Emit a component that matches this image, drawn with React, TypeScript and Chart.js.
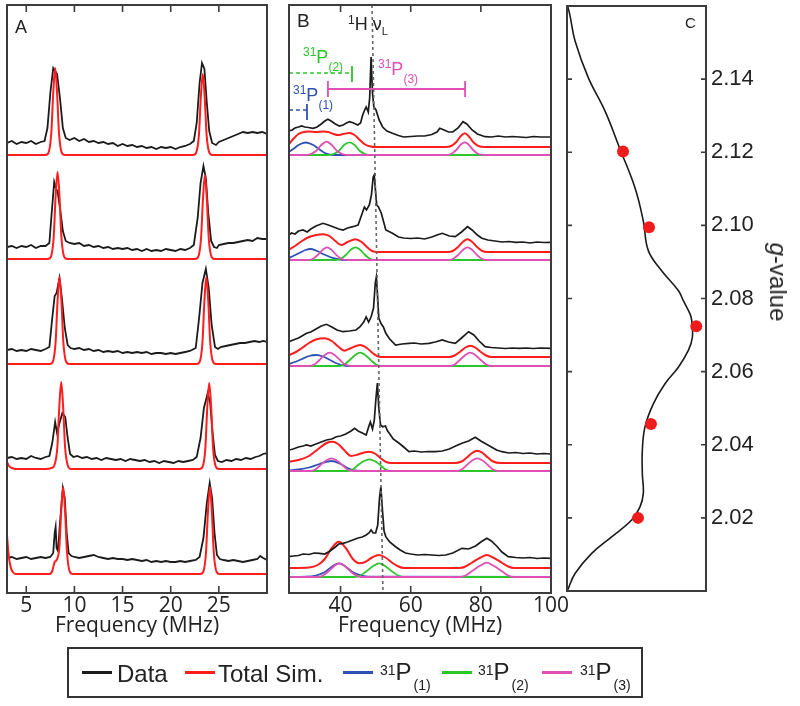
import React, { useEffect, useRef } from 'react';
import { Chart, registerables } from 'chart.js';
Chart.register(...registerables);

type Pt = [number, number];

// ---------------- Panel A (x: MHz, y: stacked intensity) ----------------
const aTicks = [5, 10, 15, 20, 25];
const aData1: Pt[] = [[3,450],[3.5,452],[4,449],[4.5,451],[5,450],[5.5,452],[6,449],[6.5,451],[6.9,452],[7.2,465],[7.5,500],[7.8,525],[8.0,522],[8.2,519],[8.5,495],[8.8,465],[9.1,455],[9.5,453],[10,455],[10.5,452],[11,454],[11.5,451],[12,452],[12.5,450],[13,451],[13.5,449],[14,450],[14.5,447],[15,449],[15.5,447],[16,448],[16.5,446],[17,447],[17.5,445],[18,446],[18.5,444],[19,446],[19.5,445],[20,446],[20.5,444],[21,446],[21.5,447],[22,449],[22.4,452],[22.7,470],[23.0,510],[23.25,530],[23.5,524],[23.75,490],[24.0,462],[24.3,450],[24.7,448],[25,451],[25.5,453],[26,455],[26.5,457],[27,459],[27.5,461],[28,460],[28.5,461],[29,460],[29.5,461],[30,459]];
const aSim1: Pt[] = [[3,438],[7.0,438],[7.3,440],[7.6,460],[7.8,500],[8.0,525],[8.2,500],[8.4,460],[8.7,440],[9.0,438],[22.33,438],[22.63,440],[22.93,458],[23.13,496],[23.33,519],[23.53,496],[23.73,458],[24.03,440],[24.33,438],[30,438]];
const aData2: Pt[] = [[3,346],[3.5,347],[4,345],[4.5,347],[5,346],[5.5,348],[6,345],[6.5,347],[7,347],[7.4,350],[7.6,375],[7.9,411],[8.1,404],[8.25,402],[8.5,385],[8.8,362],[9.1,352],[9.5,350],[10,349],[10.5,350],[11,347],[11.5,348],[12,346],[12.5,347],[13,345],[13.5,346],[14,344],[14.5,345],[15,344],[15.5,345],[16,343],[16.5,344],[17,342],[17.5,344],[18,342],[18.5,343],[19,342],[19.5,344],[20,343],[20.5,342],[21,344],[21.5,343],[22,345],[22.4,348],[22.8,375],[23.1,410],[23.4,427],[23.65,415],[23.9,380],[24.2,352],[24.5,346],[24.8,345],[25,348],[25.5,349],[26,350],[26.5,350],[27,351],[27.5,352],[28,353],[28.5,352],[29,355],[29.5,354],[30,354]];
const aSim2: Pt[] = [[3,334],[7.25,334],[7.55,336],[7.85,356],[8.05,397],[8.25,421],[8.45,397],[8.65,356],[8.95,336],[9.25,334],[22.55,334],[22.85,336],[23.15,355],[23.35,394],[23.55,418],[23.75,394],[23.95,355],[24.25,336],[24.55,334],[30,334]];
const aData3: Pt[] = [[3,243],[3.5,244],[4,242],[4.5,243],[5,242],[5.5,244],[6,243],[6.5,242],[7,244],[7.4,246],[7.7,275],[7.95,297],[8.15,300],[8.45,315],[8.7,295],[9.0,265],[9.3,248],[9.6,245],[10,244],[10.5,245],[11,243],[11.5,244],[12,242],[12.5,243],[13,241],[13.5,242],[14,241],[14.5,242],[15,240],[15.5,241],[16,240],[16.5,241],[17,240],[17.5,241],[18,239],[18.5,240],[19,240],[19.5,239],[20,240],[20.5,239],[21,240],[21.5,241],[22,242],[22.6,245],[22.95,275],[23.3,310],[23.65,324],[23.95,305],[24.25,268],[24.6,246],[24.9,244],[25.2,246],[25.7,247],[26.2,248],[26.7,249],[27.2,250],[27.7,250],[28.2,251],[28.7,252],[29.2,251],[29.6,252],[30,251]];
const aSim3: Pt[] = [[3,229],[7.45,229],[7.75,231],[8.05,251],[8.25,292],[8.45,316],[8.65,292],[8.85,251],[9.15,231],[9.45,229],[22.7,229],[23.0,231],[23.3,251],[23.5,292],[23.7,316],[23.9,292],[24.1,251],[24.4,231],[24.7,229],[30,229]];
const aData4: Pt[] = [[3,135],[3.5,136],[4,134],[4.5,135],[5,134],[5.5,137],[6,135],[6.5,134],[7,136],[7.4,137],[7.7,150],[8.0,171],[8.2,160],[8.45,170],[8.75,180],[9.05,176],[9.3,155],[9.55,139],[9.9,136],[10.3,137],[10.8,135],[11.3,136],[11.8,134],[12.3,135],[12.8,133],[13.3,135],[13.8,134],[14.3,133],[14.8,134],[15.3,132],[15.8,134],[16.3,133],[16.8,132],[17.3,133],[17.8,131],[18.3,132],[18.8,130],[19.3,132],[19.8,131],[20.3,130],[20.8,132],[21.3,131],[21.8,132],[22.3,133],[22.7,136],[23.1,155],[23.45,185],[23.85,200],[24.1,190],[24.35,160],[24.6,138],[24.9,132],[25.3,131],[25.8,133],[26.3,132],[26.8,134],[27.3,133],[27.8,135],[28.3,134],[28.8,136],[29.2,137],[29.6,139],[30,140]];
const aSim4: Pt[] = [[3,131],[3.2,127],[3.5,125],[4,124],[7.0,124],[7.63,125],[7.93,128],[8.23,146],[8.43,186],[8.63,211],[8.83,186],[9.03,146],[9.33,127],[9.63,124],[23.0,124],[23.3,126],[23.6,145],[23.8,186],[24.0,210],[24.2,186],[24.4,145],[24.7,126],[25.0,124],[30,124]];
const aData5: Pt[] = [[3,35],[3.5,36],[4,34],[4.5,35],[5,36],[5.5,34],[6,35],[6.5,36],[7,35],[7.5,36],[7.8,40],[7.95,60],[8.05,66],[8.15,45],[8.3,42],[8.5,70],[8.8,105],[9.0,95],[9.2,60],[9.4,40],[9.7,37],[10,36],[10.5,35],[11,36],[11.5,37],[12,38],[12.5,36],[13,35],[13.5,34],[14,35],[14.5,34],[15,34],[15.5,33],[16,34],[16.5,33],[17,32],[17.5,33],[18,31],[18.5,32],[19,31],[19.5,32],[20,31],[20.5,31],[21,32],[21.5,31],[22,32],[22.6,33],[23.0,36],[23.4,55],[23.75,90],[24.05,110],[24.3,95],[24.55,60],[24.8,38],[25.1,34],[25.5,33],[26,32],[26.5,33],[27,32],[27.5,31],[28,32],[28.5,33],[29,34],[29.3,37],[29.6,35],[30,33]];
const aSim5: Pt[] = [[3,58],[3.15,40],[3.35,27],[3.6,21],[3.9,19],[7.4,19],[7.7,22],[7.95,31],[8.15,33],[8.43,45],[8.63,82],[8.83,106],[9.03,82],[9.23,41],[9.53,21],[9.83,19],[23.07,19],[23.37,21],[23.67,41],[23.87,82],[24.07,106],[24.27,82],[24.47,41],[24.77,21],[25.07,19],[30,19]];

// ---------------- Panel B ----------------
const bTicks = [40, 60, 80, 100];
const bData1: Pt[] = [[25.3,462],[26.2,463],[27,465],[28,466],[28.9,467],[29.8,466],[30.8,465.5],[32.2,464.7],[33.3,466],[34.5,469],[35.5,472],[36.4,473.7],[37.3,472],[38.5,469],[39.7,467],[40.7,468],[41.7,470],[42.55,471.3],[43.7,470],[44.9,468],[45.7,470],[46.3,478],[47.0,484],[47.3,486],[47.9,481],[48.3,495],[48.7,536],[49.1,500],[49.5,486],[50.1,483],[51.0,473],[52.0,466],[53.2,462],[54.8,459.7],[56.5,457.5],[58,456],[60,456.5],[62,457],[64,457],[66,458.5],[67.5,461],[68.3,464.7],[69.5,463],[70.8,461],[72,461],[73.5,465],[74.9,471.3],[76,469],[77.5,463],[79,459],[81.2,456.3],[83,456],[85,457],[87,456],[89,456.5],[91,456],[93,455.5],[95,456.5],[97,456],[100,456]];
const bSim1: Pt[] = [[25.3,449],[26.5,454],[28,459],[29.5,461],[31,461.5],[33,461],[35,461.5],[36.5,461],[38,459],[39.3,458],[40.7,459],[42.5,460],[44,458],[45.5,453],[47,448.5],[48.5,446.5],[50,446],[70,446],[71.5,447],[73,451],[74.3,457],[75.4,459.7],[76.5,457],[77.8,451],[79.3,447],[81,446],[100,446]];
const bP1_1: Pt[] = [[25.3,441],[26.5,444],[28,448],[30.1,450.5],[32.2,448],[34,443.5],[35.5,440],[37.5,438.2],[39,438],[100,438]];
const bP2_1: Pt[] = [[25.3,438],[36.5,438],[38,439],[39.5,442],[41,448],[42.55,450.7],[44,448],[45.5,442],[47,439],[48.5,438],[100,438]];
const bP3_1: Pt[] = [[25.3,438],[30,438],[31.5,439],[33,442],[34.5,448],[36,451.3],[37.5,448],[39,442],[40.5,439],[42,438],[70,438],[71.5,439],[73,443],[74.3,448.5],[75.4,450.7],[76.5,448.5],[77.8,443],[79.3,439],[81,438],[100,438]];

const bData2: Pt[] = [[25.3,358],[26,360],[27,359],[28,362],[29.3,363],[30.5,361],[31.5,364],[33,367],[35,369.7],[36.5,368],[38,366],[39.5,364],[40.7,363],[42,365],[43.5,366.3],[45,368],[46.2,380],[46.8,386],[47.4,383],[48.2,388],[48.8,398],[49.3,416],[49.6,418],[49.9,405],[50.3,388],[50.8,386],[51.6,380],[52.9,363],[54.8,359.7],[56.5,356],[58,355],[60,354.5],[62,355],[64,354],[66,356],[67.5,358],[69,359.7],[71,357],[72.7,356.3],[74.5,361],[76.2,366.3],[77.5,363],[79,358],[80.3,354.7],[82,353],[84,352],[86,351],[88,351.5],[90,350.7],[92,351],[94,350],[96,351],[98,350.5],[100,350.7]];
const bSim2: Pt[] = [[25.3,343.5],[27,347],[29,352],[31,356],[33,358],[35,358.7],[36.8,357],[38.5,352],[40.2,348],[42,351],[44.25,353.7],[46,351],[47.5,346],[49,342],[50.5,341],[70.5,341],[72,342],[73.5,346],[75,351.5],[76.2,353.7],[77.4,351.5],[78.9,346],[80.4,342],[82,341],[100,341]];
const bP1_2: Pt[] = [[25.3,335],[26.5,337],[28.5,340.5],[30,343],[31.4,344],[33,342.5],[35,339],[37,336],[39,334],[41,333],[100,333]];
const bP2_2: Pt[] = [[25.3,333],[38.5,333],[40,334],[41.5,338],[43,343.5],[44.25,345.7],[45.5,343.5],[47,338],[48.5,334],[50,333],[100,333]];
const bP3_2: Pt[] = [[25.3,333],[30.5,333],[32,334],[33.5,338],[35,343.5],[36.1,345.7],[37.3,343.5],[38.8,338],[40.3,334],[42,333],[70.5,333],[72,334],[73.5,338],[75,343.5],[76.2,345.7],[77.4,343.5],[78.9,338],[80.4,334],[82,333],[100,333]];

const bData3: Pt[] = [[25.3,251.3],[26.5,253],[28,255],[29,257],[30.3,259.7],[31.5,261],[33,264],[34.5,267],[36,268.7],[37.5,266],[39,263],[40.7,261.3],[42.5,262],[44.4,263],[45.5,266],[46.6,271],[47.3,276],[48,271],[48.7,276],[49.4,285],[49.9,310],[50.2,316],[50.5,300],[50.9,275],[51.5,269.7],[52.2,266],[52.9,259.7],[54,254],[55.7,248],[57.5,249],[59.5,249.7],[61,250],[63,249],[65.2,249.7],[67,251],[69,253],[70.8,251],[72.7,249.7],[74.5,255],[76.5,261.3],[78,258],[79.5,252],[81.2,246.3],[83,245.5],[85,245],[87,244.5],[89,245],[91,244.7],[93,245],[95,244.5],[97,245],[100,244.7]];
const bSim3: Pt[] = [[25.3,238],[27,240.5],[29,245],[31,250],[33,253.5],[35.5,254.7],[37.5,252],[39.3,246.5],[41.1,242.3],[43,245],[45.6,248],[47.5,245],[49.3,239.5],[51,236.2],[52.5,236],[71,236],[72.5,237.5],[74,241],[75.6,245.5],[77,247.3],[78.4,245.5],[80,241],[81.5,237.5],[83,236],[100,236]];
const bP1_3: Pt[] = [[25.3,229],[27,231],[29,234],[31,237],[33.1,238],[35,236.5],[37,233],[39,229.5],[41,227.5],[43,227],[100,227]];
const bP2_3: Pt[] = [[25.3,227],[39.6,227],[41.1,228.5],[42.6,233],[44.2,238],[45.6,240.3],[47,238],[48.6,233],[50.1,228.5],[51.6,227],[100,227]];
const bP3_3: Pt[] = [[25.3,227],[31,227],[32.5,228.5],[34,233],[35.5,238],[36.9,240.3],[38.3,238],[39.8,233],[41.3,228.5],[43,227],[71,227],[72.5,228.5],[74,233],[75.6,238],[77,240.3],[78.4,238],[80,233],[81.5,228.5],[83,227],[100,227]];

const bData4: Pt[] = [[25.3,143],[26.5,144],[28,146],[29.3,147],[30.3,148],[31.5,147],[33,149],[34.5,151],[36,153],[37.5,154],[38.8,156.3],[40,157],[41.5,159],[43,162],[44,164.7],[45,162],[46.2,160],[47.3,158],[48,166],[48.5,171],[49.1,164],[49.6,172],[50.1,195],[50.5,210],[50.9,185],[51.4,168],[52,166.3],[52.8,167],[53.4,162],[53.9,159.7],[55,154],[56.7,149.7],[58,146],[59.5,141.3],[61,142],[63,141],[65,141.5],[67,141.3],[69,142],[71,144],[72.8,147],[74.6,149.7],[76.5,152],[78.4,155.7],[80,152],[81.5,149],[83,146],[84.5,143],[86,141.3],[88,140],[90,140.5],[92,139.5],[94,140],[96,139],[98,139.5],[100,139]];
const bSim4: Pt[] = [[25.3,131.3],[28,133],[31,137],[34,145],[36,150],[37.6,151.3],[39.3,149],[41,143],[43,137],[45,138.5],[46.7,140.5],[48.2,141.3],[49.8,139.5],[51.5,134.5],[53,131],[54.5,130],[72.5,130],[74.5,131.5],[76,135.5],[77.5,140],[79,142.3],[80.5,140],[82,135.5],[83.5,131.5],[85.5,130],[100,130]];
const bP1_4: Pt[] = [[25.3,122.5],[28,123.5],[31,125.5],[34,129],[37.4,132],[40,129],[42,125],[44,122.5],[46,122],[100,122]];
const bP2_4: Pt[] = [[25.3,122],[42,122],[43.5,123.5],[45,128],[46.7,132],[48.2,133.7],[49.7,132],[51.3,128],[52.8,123.5],[54.3,122],[100,122]];
const bP3_4: Pt[] = [[25.3,122],[31.3,122],[32.8,123.5],[34.3,128],[35.9,132.5],[37.4,134.7],[38.9,132.5],[40.5,128],[42,123.5],[43.5,122],[73,122],[74.5,123.5],[76,128],[77.5,132.5],[79,134.7],[80.5,132.5],[82,128],[83.5,123.5],[85,122],[100,122]];

const bData5: Pt[] = [[25.3,36.3],[26.5,37],[28,37.5],[29.3,39],[31,38.5],[32.5,40],[34,39.7],[35.5,39],[37,42],[38.5,46],[39.5,49],[40.7,49.7],[42,51],[43.5,53],[45,55],[46.2,56],[47.3,58],[48.1,60],[48.7,63],[49.3,60],[50,60],[50.6,68],[51.1,95],[51.5,106.3],[51.9,85],[52.4,62],[52.9,56.3],[54,51],[55.7,46.3],[57,43],[58.5,40],[60,39],[62,38],[64,38.5],[66,38],[68,37.5],[70,38],[72,40],[74.6,44.7],[76.5,44],[78.5,47],[80,51],[81.7,54.7],[83,52],[84.5,47],[86,41],[87.8,36.3],[90,35.5],[92,35],[94,35.5],[96,34.5],[98,35],[100,34.7]];
const bSim5: Pt[] = [[25.3,25],[31,25.5],[33.5,28],[35.5,34],[37.5,45],[39.5,51.3],[41.5,45],[43.5,34],[45.4,29.7],[47,31],[49,35.5],[50.9,38],[52.8,35.5],[54.8,30],[56.5,26.5],[58,25],[74,25],[75.6,26.5],[77.3,30],[79.9,35.5],[81.7,38],[83.5,35.5],[86.1,30],[87.8,26.5],[89.4,25],[100,25]];
const bP1_5: Pt[] = [[25.3,16],[30,16.3],[33,17.5],[35.3,20.5],[37.6,26.5],[39.5,29.7],[41.4,26.5],[43.7,20.5],[46,17.5],[48,16.3],[100,16]];
const bP2_5: Pt[] = [[25.3,16],[44,16],[45.6,17.5],[47.3,21.5],[49.3,27],[51,29.7],[52.7,27],[54.7,21.5],[56.4,17.5],[58,16],[100,16]];
const bP3_5: Pt[] = [[25.3,16],[33.5,16],[35,17.5],[36.5,21.5],[38.2,27],[39.7,29.7],[41.2,27],[42.9,21.5],[44.4,17.5],[46,16],[74,16],[75.6,17.5],[77.3,21.5],[79.9,27.5],[81.7,30.3],[83.5,27.5],[86.1,21.5],[87.8,17.5],[89.4,16],[100,16]];

// annotation ranges in panel B
const bLarmor: Pt[] = [[48.97,588],[52.1,0]];
const bRange2: Pt[] = [[25.3,520],[43.26,520]];
const bRange2End: Pt[] = [[43.26,511],[43.26,527]];
const bRange3: Pt[] = [[36.4,504],[75.5,504]];
const bRange3L: Pt[] = [[36.4,496],[36.4,512]];
const bRange3R: Pt[] = [[75.5,496],[75.5,512]];
const bRange1: Pt[] = [[25.3,483],[30.43,483]];
const bRange1End: Pt[] = [[30.43,473],[30.43,489]];

// ---------------- Panel C ----------------
const gTicks = [2.02, 2.04, 2.06, 2.08, 2.10, 2.12, 2.14];
const cCurve: Pt[] = [[0.005,2.16],[0.022,2.1573],[0.058,2.1504],[0.153,2.1404],[0.273,2.1313],[0.381,2.1209],[0.489,2.1103],[0.549,2.1012],[0.585,2.0931],[0.681,2.0876],[0.801,2.0822],[0.837,2.0794],[0.885,2.0758],[0.897,2.074],[0.902,2.0694],[0.873,2.0658],[0.801,2.0612],[0.705,2.0567],[0.621,2.0512],[0.561,2.0449],[0.542,2.0385],[0.542,2.0321],[0.549,2.0267],[0.525,2.023],[0.465,2.0194],[0.321,2.0148],[0.178,2.0103],[0.058,2.0048],[0.005,2.0003]];
const cPoints: Pt[] = [[0.403,2.1202],[0.59,2.0995],[0.93,2.0724],[0.604,2.0457],[0.511,2.02]];

// ---------------- styles ----------------
const BLACK = '#1b1b1b';
const RED = '#ff1d1d';
const BLUE = '#2e52b4';
const GREEN = '#2cc52c';
const MAGENTA = '#e04fb6';
const FRAME = '#3c3c3c';
const AXIS_FONT = "'Open Sans', sans-serif";
const TEXT_FONT = "'Liberation Sans', Arial, sans-serif";

const toXY = (a: Pt[]) => a.map(([x, y]) => ({ x, y }));

const line = (data: Pt[], color: string, width: number, smooth: boolean, dash: number[] = []) => ({
  data: toXY(data),
  borderColor: color,
  backgroundColor: color,
  borderWidth: width,
  showLine: true,
  pointRadius: 0,
  pointHoverRadius: 0,
  fill: false,
  tension: smooth ? 0.4 : 0,
  cubicInterpolationMode: smooth ? 'monotone' : 'default',
  borderDash: dash,
});

const framePlugin = {
  id: 'frame',
  afterDatasetsDraw(chart: any, _args: any, opts: any) {
    const { ctx, chartArea: a } = chart;
    ctx.save();
    ctx.strokeStyle = FRAME;
    ctx.lineWidth = 1.6;
    ctx.beginPath();
    const len = opts.tickLen || 6;
    if (opts.xTicks) {
      const s = chart.scales.x;
      for (const v of opts.xTicks) {
        const p = s.getPixelForValue(v);
        if (p <= a.left + 2 || p >= a.right - 2) continue;
        ctx.moveTo(p, a.top); ctx.lineTo(p, a.top + len);
        ctx.moveTo(p, a.bottom); ctx.lineTo(p, a.bottom - len);
      }
    }
    if (opts.yTicks) {
      const s = chart.scales.y;
      for (const v of opts.yTicks) {
        const p = s.getPixelForValue(v);
        ctx.moveTo(a.left, p); ctx.lineTo(a.left + len, p);
        ctx.moveTo(a.right, p); ctx.lineTo(a.right - len, p);
      }
    }
    ctx.stroke();
    ctx.lineWidth = 2;
    ctx.strokeRect(a.left, a.top, a.right - a.left, a.bottom - a.top);
    ctx.restore();
  },
};

const freqAxis = (min: number, max: number, ticks: number[]) => ({
  type: 'linear',
  min,
  max,
  afterBuildTicks: (s: any) => { s.ticks = ticks.map((value) => ({ value })); },
  afterFit: (s: any) => { s.height = 46; },
  grid: { display: false, drawTicks: false },
  border: { display: false },
  ticks: { font: { family: AXIS_FONT, size: 21 }, color: '#222', padding: 0, maxRotation: 0, autoSkip: false },
  title: { display: true, text: 'Frequency (MHz)', font: { family: AXIS_FONT, size: 21 }, color: '#222', padding: 0 },
});

const baseOptions = {
  responsive: false,
  animation: false,
  events: [],
};

function makeA(): any {
  const sims = [aSim1, aSim2, aSim3, aSim4, aSim5];
  const datas = [aData1, aData2, aData3, aData4, aData5];
  return {
    type: 'scatter',
    data: {
      datasets: [
        ...sims.map((s) => line(s, RED, 2, true)),
        ...datas.map((d) => line(d, BLACK, 1.8, false)),
      ],
    },
    options: {
      ...baseOptions,
      layout: { padding: { left: 7, right: 13, top: 5, bottom: 0 } },
      plugins: { legend: { display: false }, tooltip: { enabled: false }, frame: { xTicks: aTicks, tickLen: 7 } },
      scales: {
        x: freqAxis(3, 30, aTicks),
        y: { type: 'linear', display: false, min: 0, max: 588 },
      },
    },
    plugins: [framePlugin],
  };
}

function makeB(): any {
  const datas = [bData1, bData2, bData3, bData4, bData5];
  const sims = [bSim1, bSim2, bSim3, bSim4, bSim5];
  const p1 = [bP1_1, bP1_2, bP1_3, bP1_4, bP1_5];
  const p2 = [bP2_1, bP2_2, bP2_3, bP2_4, bP2_5];
  const p3 = [bP3_1, bP3_2, bP3_3, bP3_4, bP3_5];
  return {
    type: 'scatter',
    data: {
      datasets: [
        line(bLarmor, '#666666', 1.6, false, [3, 3]),
        line(bRange2, GREEN, 1.6, false, [4, 3]),
        line(bRange2End, GREEN, 1.8, false),
        line(bRange3, MAGENTA, 1.8, false),
        line(bRange3L, MAGENTA, 1.8, false),
        line(bRange3R, MAGENTA, 1.8, false),
        line(bRange1, BLUE, 1.6, false, [4, 3]),
        line(bRange1End, BLUE, 1.8, false),
        ...datas.map((d) => line(d, BLACK, 1.7, false)),
        ...sims.map((s) => line(s, RED, 2, true)),
        ...p3.map((s) => line(s, MAGENTA, 1.8, true)),
        ...p2.map((s) => line(s, GREEN, 1.8, true)),
        ...p1.map((s) => line(s, BLUE, 1.8, true)),
      ],
    },
    options: {
      ...baseOptions,
      layout: { padding: { left: 12, right: 26, top: 5, bottom: 0 } },
      plugins: { legend: { display: false }, tooltip: { enabled: false }, frame: { xTicks: bTicks, tickLen: 7 } },
      scales: {
        x: freqAxis(25.3, 100, bTicks),
        y: { type: 'linear', display: false, min: 0, max: 588 },
      },
    },
    plugins: [framePlugin],
  };
}

function makeC(): any {
  return {
    type: 'scatter',
    data: {
      datasets: [
        { data: toXY(cPoints), pointRadius: 6, pointHoverRadius: 6, backgroundColor: '#f01c1c', borderWidth: 0, showLine: false },
        { ...line(cCurve, BLACK, 1.6, false), tension: 0.4, cubicInterpolationMode: 'default' },
      ],
    },
    options: {
      ...baseOptions,
      layout: { padding: { left: 7, right: 0, top: 5, bottom: 115 } },
      plugins: { legend: { display: false }, tooltip: { enabled: false }, frame: { yTicks: gTicks, tickLen: 5 } },
      scales: {
        x: { type: 'linear', display: false, min: 0, max: 1 },
        y: {
          type: 'linear',
          position: 'right',
          min: 2.0,
          max: 2.16,
          afterBuildTicks: (s: any) => { s.ticks = gTicks.map((value) => ({ value })); },
          afterFit: (s: any) => { s.width = 94; s.paddingTop = 0; s.paddingBottom = 0; },
          grid: { display: false, drawTicks: false },
          border: { display: false },
          ticks: {
            font: { family: TEXT_FONT, size: 22 },
            color: '#222',
            padding: 5,
            callback: (v: any) => Number(v).toFixed(2),
          },
        },
      },
    },
    plugins: [framePlugin],
  };
}

function ChartCanvas({ left, top, width, height, make }: { left: number; top: number; width: number; height: number; make: () => any }) {
  const ref = useRef<HTMLCanvasElement>(null);
  useEffect(() => {
    const chart = new Chart(ref.current as HTMLCanvasElement, make());
    return () => chart.destroy();
  }, []);
  return (
    <canvas
      ref={ref}
      width={width}
      height={height}
      style={{ position: 'absolute', left, top, width, height, display: 'block' }}
    />
  );
}

function Txt({ left, top, size, color = '#222', children, style = {} }: any) {
  return (
    <div style={{ position: 'absolute', left, top, fontSize: size, lineHeight: 1, color, whiteSpace: 'nowrap', fontFamily: TEXT_FONT, ...style }}>
      {children}
    </div>
  );
}

function PLabel({ left, capTop, size, color, n, supSize, supShift, subShift, subGap = 0 }: any) {
  return (
    <Txt left={left} top={capTop - 0.13 * size} size={size} color={color}>
      <span style={{ fontSize: supSize, position: 'relative', top: supShift }}>31</span>
      <span>P</span>
      <span style={{ fontSize: supSize, position: 'relative', top: subShift, marginLeft: subGap }}>({n})</span>
    </Txt>
  );
}

function LegendLine({ left, color }: any) {
  return <div style={{ position: 'absolute', left, top: 671, width: 30, height: 3, background: color }} />;
}

export default function App() {
  return (
    <div style={{ position: 'absolute', left: 0, top: 0, width: 800, height: 706, background: '#fff', overflow: 'hidden', fontFamily: TEXT_FONT }}>
      <ChartCanvas left={0} top={0} width={280} height={639} make={makeA} />
      <ChartCanvas left={277} top={0} width={300} height={639} make={makeB} />
      <ChartCanvas left={560} top={0} width={240} height={706} make={makeC} />

      {/* panel letters */}
      <Txt left={15} top={18.4} size={18}>A</Txt>
      <Txt left={297} top={10.8} size={19}>B</Txt>
      <Txt left={685} top={14.5} size={15}>C</Txt>

      {/* 1H nu_L */}
      <Txt left={348} top={15} size={18}>
        <span style={{ fontSize: 12, position: 'relative', top: -6 }}>1</span>H
        <span style={{ marginLeft: 5 }}>ν</span>
        <span style={{ fontSize: 11, position: 'relative', top: 5 }}>L</span>
      </Txt>

      <PLabel left={303} capTop={50} size={18} color={GREEN} n={2} supSize={12} supShift={-7} subShift={8} />
      <PLabel left={378} capTop={62} size={18} color={MAGENTA} n={3} supSize={12} supShift={-7} subShift={8} />
      <PLabel left={293} capTop={88} size={18} color={BLUE} n={1} supSize={12} supShift={-7} subShift={8} />

      {/* g-value axis title */}
      <div style={{ position: 'absolute', left: 778, top: 282, transform: 'translate(-50%, -50%) rotate(90deg)', fontSize: 24, lineHeight: 1, color: '#222', whiteSpace: 'nowrap', fontFamily: TEXT_FONT }}>
        <i>g</i>-value
      </div>

      {/* legend */}
      <div style={{ position: 'absolute', left: 67, top: 647, width: 576, height: 51, border: '2px solid #333', boxSizing: 'border-box' }} />
      <LegendLine left={82} color={BLACK} />
      <Txt left={117} top={662} size={24}>Data</Txt>
      <LegendLine left={185} color={RED} />
      <Txt left={218} top={662} size={24}>Total Sim.</Txt>
      <LegendLine left={343} color={BLUE} />
      <PLabel left={380} capTop={663} size={24} color="#222" n={1} supSize={14} supShift={-5} subShift={10} subGap={2} />
      <LegendLine left={442} color={GREEN} />
      <PLabel left={478} capTop={663} size={24} color="#222" n={2} supSize={14} supShift={-5} subShift={10} subGap={2} />
      <LegendLine left={542} color={MAGENTA} />
      <PLabel left={580} capTop={663} size={24} color="#222" n={3} supSize={14} supShift={-5} subShift={10} subGap={2} />
    </div>
  );
}
